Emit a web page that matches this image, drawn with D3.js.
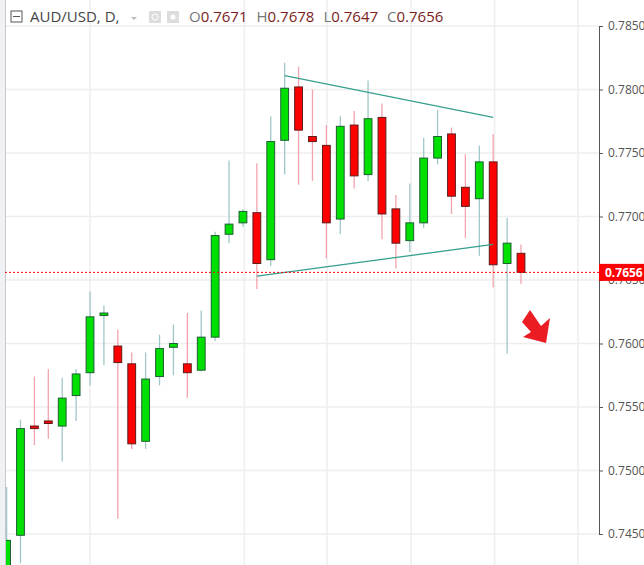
<!DOCTYPE html>
<html><head><meta charset="utf-8">
<script src="https://cdn.jsdelivr.net/npm/d3@7"></script>
<style>body{margin:0;background:#fff;font-family:"Open Sans","DejaVu Sans",sans-serif}</style>
</head><body><svg id="c" width="644" height="565"></svg>
<script>
const opens  = [0.7420,0.7449,0.7535,0.7539,0.7535,0.7559,0.7577,0.7622,0.7598,0.7584,0.7523,0.7574,0.7597,0.7584,0.7579,0.7605,0.7686,0.7695,0.7703,0.7666,0.7760,0.7802,0.7763,0.7756,0.7698,0.7772,0.7733,0.7778,0.7706,0.7681,0.7695,0.7746,0.7765,0.7723,0.7714,0.7743,0.7663,0.7671];
const highs  = [0.7487,0.7540,0.7574,0.7580,0.7573,0.7580,0.7641,0.7630,0.7611,0.7593,0.7593,0.7607,0.7615,0.7624,0.7626,0.7688,0.7744,0.7706,0.7742,0.7779,0.7821,0.7818,0.7800,0.7772,0.7779,0.7783,0.7807,0.7789,0.7717,0.7726,0.7762,0.7784,0.7770,0.7749,0.7756,0.7765,0.7699,0.7678];
const lows   = [0.7410,0.7427,0.7520,0.7525,0.7507,0.7539,0.7567,0.7583,0.7462,0.7517,0.7517,0.7567,0.7575,0.7557,0.7578,0.7602,0.7679,0.7692,0.7643,0.7661,0.7733,0.7725,0.7728,0.7667,0.7686,0.7722,0.7728,0.7682,0.7659,0.7672,0.7691,0.7741,0.7702,0.7683,0.7669,0.7644,0.7592,0.7647];
const closes = [0.7445,0.7533,0.7533,0.7537,0.7557,0.7576,0.7621,0.7624,0.7585,0.7521,0.7572,0.7596,0.7600,0.7577,0.7605,0.7685,0.7694,0.7704,0.7663,0.7759,0.7801,0.7768,0.7759,0.7695,0.7771,0.7732,0.7777,0.7702,0.7679,0.7695,0.7746,0.7763,0.7716,0.7708,0.7743,0.7662,0.7679,0.7656];
const yTicks = [0.7450,0.7500,0.7550,0.7600,0.7650,0.7700,0.7750,0.7800,0.7850];
const vGridIdx = [6,17.1,23.05,29.1,35.1,41.1];
const upperLine = [[20,0.7811],[35,0.7778]];
const lowerLine = [[18,0.7653],[35,0.7678]];
const lastPrice = 0.7656;
const header = {sym:"AUD/USD, D,", o:"0.7671", h:"0.7678", l:"0.7647", c:"0.7656"};

const svg = d3.select("#c");
const x = d3.scaleLinear().domain([0,37]).range([6.6,521]);
const y = d3.scaleLinear().domain([0.7450,0.7850]).range([534,26]);
const plotR = 599;

// grid
svg.append("g").selectAll("line").data(yTicks).join("line")
  .attr("x1",5).attr("x2",plotR).attr("y1",d=>y(d)).attr("y2",d=>y(d))
  .attr("stroke","#eeeeee").attr("stroke-width",1.5);
svg.append("g").selectAll("line").data(vGridIdx).join("line")
  .attr("x1",d=>x(d)).attr("x2",d=>x(d)).attr("y1",0).attr("y2",565)
  .attr("stroke","#eeeeee").attr("stroke-width",1.5);

// candles
const idx = d3.range(opens.length);
const g = svg.append("g");
g.selectAll("line.w").data(idx).join("line").attr("class","w")
  .attr("x1",i=>x(i)).attr("x2",i=>x(i)).attr("y1",i=>y(highs[i])).attr("y2",i=>y(lows[i]))
  .attr("stroke",i=>closes[i]>=opens[i]?"#9fc7c9":"#f2a3ad").attr("stroke-width",1.3);
g.selectAll("rect").data(idx).join("rect")
  .attr("x",i=>x(i)-3.9).attr("width",7.8)
  .attr("y",i=>y(Math.max(opens[i],closes[i])))
  .attr("height",i=>Math.max(1.5,Math.abs(y(opens[i])-y(closes[i]))))
  .attr("fill",i=>closes[i]>=opens[i]?"#00e000":"#ff0000")
  .attr("stroke",i=>closes[i]>=opens[i]?"#1d5e32":"#5e1a1a").attr("stroke-width",1);

// trend lines
const ln = d3.line().x(d=>x(d[0])).y(d=>y(d[1]));
[upperLine,lowerLine].forEach(l=>svg.append("path").attr("d",ln(l))
  .attr("stroke","#35a090").attr("stroke-width",1.3).attr("fill","none"));

// left border
svg.append("rect").attr("x",0).attr("y",0).attr("width",5).attr("height",565).attr("fill","#f0f1f4");
svg.append("line").attr("x1",5.5).attr("x2",5.5).attr("y1",0).attr("y2",565).attr("stroke","#c8c8cc");

// axis
const ax = svg.append("g").attr("transform",`translate(${plotR},0)`)
  .call(d3.axisRight(y).tickValues(yTicks).tickFormat(d3.format(".4f")).tickSize(4).tickPadding(5));
ax.select(".domain").attr("stroke","#555");
ax.selectAll("line").attr("stroke","#555");
ax.selectAll("text").attr("fill","#555").style("font-size","12px").style("font-family","'Open Sans',sans-serif");

// price line
svg.append("line").attr("x1",5).attr("x2",plotR).attr("y1",y(lastPrice)).attr("y2",y(lastPrice))
  .attr("stroke","#ff0000").attr("stroke-width",1).attr("stroke-dasharray","2,2");
svg.append("rect").attr("x",plotR).attr("y",y(lastPrice)-8.5).attr("width",45).attr("height",17).attr("fill","#ff0000");
svg.append("text").attr("x",plotR+6).attr("y",y(lastPrice)+4.5).text(lastPrice.toFixed(4))
  .attr("fill","#fff").style("font-weight","bold").style("font-size","12px");

// arrow
svg.append("path").attr("d","M522,322 L530,310 L541,326 L550,318 L546,343 L523,337 L531,332 Z").attr("fill","#ec1c24");

// header
const hd = svg.append("g").style("font-size","15px");
hd.append("rect").attr("x",11).attr("y",11).attr("width",11).attr("height",11).attr("fill","none").attr("stroke","#555");
hd.append("line").attr("x1",13).attr("x2",20).attr("y1",16.5).attr("y2",16.5).attr("stroke","#555");
hd.append("text").attr("x",30).attr("y",22).text(header.sym).attr("fill","#444");
hd.append("path").attr("d","M131,17 L137,17 L134,20 Z").attr("fill","#bbb");
hd.append("rect").attr("x",149).attr("y",11).attr("width",12).attr("height",12).attr("fill","#ddd");
hd.append("circle").attr("cx",155).attr("cy",17).attr("r",3).attr("fill","none").attr("stroke","#fff");
hd.append("rect").attr("x",167).attr("y",11).attr("width",12).attr("height",12).attr("fill","#ddd");
hd.append("circle").attr("cx",173).attr("cy",17).attr("r",2.5).attr("fill","#fff");
const t = hd.append("text").attr("x",189).attr("y",22);
[["O",header.o],["H",header.h],["L",header.l],["C",header.c]].forEach((p,k)=>{
  t.append("tspan").attr("dx",k?9:0).text(p[0]).attr("fill","#777");
  t.append("tspan").text(p[1]).attr("fill","#7a1d1d");
});
</script></body></html>
